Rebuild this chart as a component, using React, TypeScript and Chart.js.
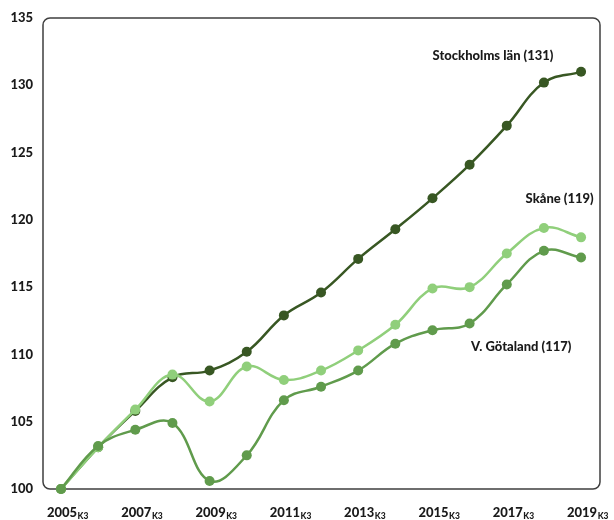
import React, { useEffect, useRef } from "react";
import { Chart, registerables } from "chart.js";

Chart.register(...registerables);

const years = [2005, 2006, 2007, 2008, 2009, 2010, 2011, 2012, 2013, 2014, 2015, 2016, 2017, 2018, 2019];
const stockholm = [100, 103.1, 105.8, 108.3, 108.8, 110.2, 112.9, 114.6, 117.1, 119.3, 121.6, 124.1, 127.0, 130.2, 131.0];
const skane = [100, 103.1, 105.9, 108.5, 106.5, 109.1, 108.1, 108.8, 110.3, 112.2, 114.9, 115.0, 117.5, 119.4, 118.7];
const vgotaland = [100, 103.2, 104.4, 104.9, 100.6, 102.5, 106.6, 107.6, 108.8, 110.8, 111.8, 112.3, 115.2, 117.7, 117.2];
const xTickYears = [2005, 2007, 2009, 2011, 2013, 2015, 2017, 2019];
const xTickSuffix = "K3";
const yTicks = [100, 105, 110, 115, 120, 125, 130, 135];
const seriesNames = ["Stockholms län", "Skåne", "V. Götaland"];
const seriesColors = ["#385723", "#90cf7b", "#609b4c"];
const endLabels = ["Stockholms län (131)", "Skåne (119)", "V. Götaland (117)"];

const FONT = "Lato, 'Open Sans', sans-serif";
const WEIGHT = "900";

export default function App() {
  const ref = useRef<HTMLCanvasElement | null>(null);

  useEffect(() => {
    if (!ref.current) return;
    const toXY = (arr: number[]) => arr.map((v, i) => ({ x: years[i], y: v }));

    const decor = {
      id: "decor",
      beforeDatasetsDraw(chart: any) {
        const { ctx, chartArea } = chart;
        const { left, right, top, bottom } = chartArea;
        const r = 7;
        ctx.save();
        ctx.strokeStyle = "#3f3f3f";
        ctx.lineWidth = 1.5;
        ctx.beginPath();
        ctx.moveTo(left + r, top);
        ctx.lineTo(right - r, top);
        ctx.arcTo(right, top, right, top + r, r);
        ctx.lineTo(right, bottom - r);
        ctx.arcTo(right, bottom, right - r, bottom, r);
        ctx.lineTo(left + r, bottom);
        ctx.arcTo(left, bottom, left, bottom - r, r);
        ctx.lineTo(left, top + r);
        ctx.arcTo(left, top, left + r, top, r);
        ctx.closePath();
        ctx.stroke();
        ctx.restore();
      },
      afterDraw(chart: any) {
        const { ctx } = chart;
        const xs = chart.scales.x;
        const ys = chart.scales.y;
        ctx.save();
        ctx.fillStyle = "#1a1a1a";
        ctx.textBaseline = "alphabetic";
        // x labels with subscript
        xTickYears.forEach((yr) => {
          const px = xs.getPixelForValue(yr);
          const main = String(yr);
          ctx.font = `${WEIGHT} 13px ${FONT}`;
          const w1 = ctx.measureText(main).width;
          const start = px - w1 / 2 + 1;
          ctx.textAlign = "left";
          ctx.fillText(main, start, 517);
          ctx.font = `${WEIGHT} 8.5px ${FONT}`;
          ctx.fillText(xTickSuffix, start + w1 + 0.5, 519);
        });
        // series end labels
        ctx.font = `${WEIGHT} 13px ${FONT}`;
        ctx.textAlign = "center";
        ctx.fillText(endLabels[0], xs.getPixelForValue(2016.63), ys.getPixelForValue(stockholm[14] + 0.85));
        ctx.textAlign = "right";
        ctx.fillText(endLabels[1], xs.getPixelForValue(2019.34), ys.getPixelForValue(skane[14] + 2.55));
        ctx.textAlign = "center";
        ctx.fillText(endLabels[2], xs.getPixelForValue(2017.39), ys.getPixelForValue(110.25));
        ctx.restore();
      },
    };

    const chart = new Chart(ref.current, {
      type: "line",
      data: {
        datasets: [stockholm, skane, vgotaland].map((d, i) => ({
          label: seriesNames[i],
          data: toXY(d),
          borderColor: seriesColors[i],
          backgroundColor: seriesColors[i],
          pointBackgroundColor: seriesColors[i],
          pointBorderColor: seriesColors[i],
          pointRadius: 5,
          pointBorderWidth: 0,
          borderWidth: 2.5,
          tension: 0.4,
          clip: false as any,
        })).reverse(),
      },
      options: {
        animation: false,
        responsive: true,
        maintainAspectRatio: false,
        layout: { padding: { left: 0, top: 18, right: 14, bottom: 31 } },
        plugins: { legend: { display: false }, tooltip: { enabled: false } },
        scales: {
          x: {
            type: "linear",
            display: false,
            min: 2004.515,
            max: 2019.51,
          },
          y: {
            min: 100,
            max: 135,
            afterFit(scale: any) {
              scale.width = 43;
            },
            afterBuildTicks(scale: any) {
              scale.ticks = yTicks.map((v) => ({ value: v }));
            },
            grid: { display: false, drawTicks: false },
            border: { display: false },
            ticks: {
              padding: 10,
              color: "#1a1a1a",
              font: { family: FONT, size: 13, weight: WEIGHT as any },
            },
          },
        },
      },
      plugins: [decor],
    });
    return () => chart.destroy();
  }, []);

  return (
    <div style={{ position: "fixed", left: 0, top: 0, width: 614, height: 520, background: "#fff" }}>
      <canvas ref={ref} />
    </div>
  );
}
